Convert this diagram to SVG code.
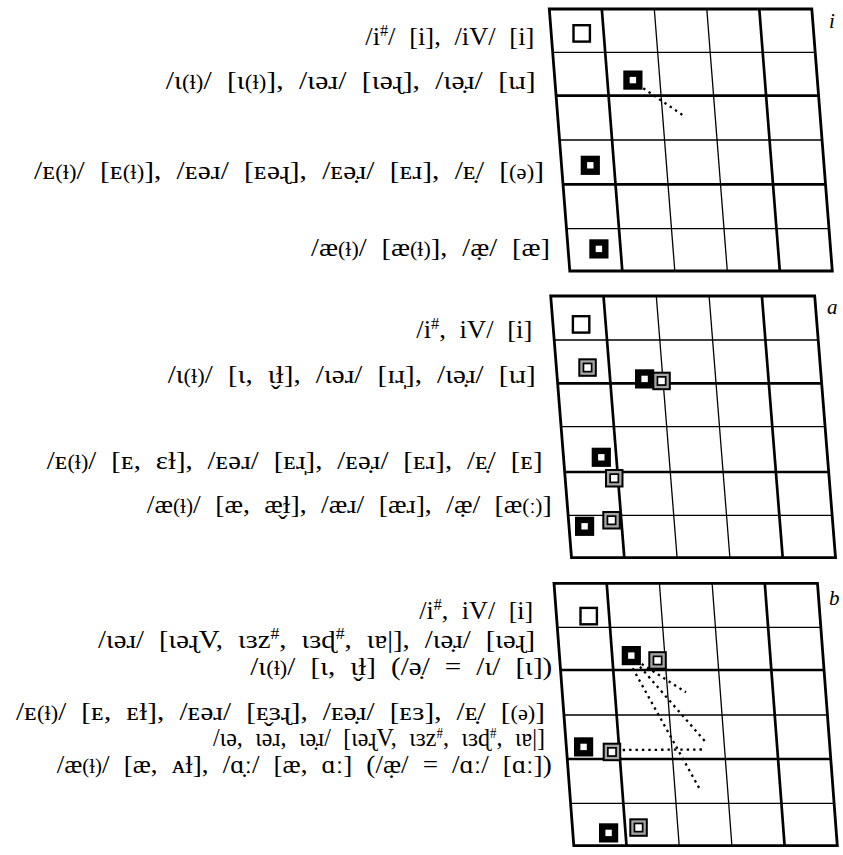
<svg xmlns="http://www.w3.org/2000/svg" xmlns:xlink="http://www.w3.org/1999/xlink" width="843" height="855" viewBox="0 0 843 855">
<style>
.t{font-family:"Liberation Serif","DejaVu Serif",serif;font-size:26px;fill:#000;text-anchor:end;word-spacing:7px}
.sm{font-size:20px}
.sup{font-size:16px}
.sup2{font-size:14px}
.lab{font-family:"Liberation Serif","DejaVu Serif",serif;font-size:21px;font-style:italic;fill:#000}
.bd{fill:none;stroke:#000;stroke-width:2.8;stroke-linejoin:miter}
.tk{stroke:#000;stroke-width:2.7;fill:none}
.tn{stroke:#000;stroke-width:1.3;fill:none}
.dot{stroke:#000;stroke-width:2.3;stroke-dasharray:2.4 4;fill:none}
</style>
<defs>
<g id="hol"><rect x="1.2" y="1.2" width="16.4" height="16.4" fill="#fff" stroke="#000" stroke-width="2.4"/></g>
<g id="blk"><rect width="19.2" height="19.2" fill="#000"/><rect x="6.4" y="6.4" width="6.4" height="6.4" fill="#fff"/></g>
<g id="gry"><rect width="18.5" height="18.5" fill="#000"/><rect x="2" y="2" width="14.5" height="14.5" fill="#a6a6a6"/><rect x="4.3" y="4.3" width="9.9" height="9.9" fill="#000"/><rect x="6" y="6" width="6.5" height="6.5" fill="#fff"/></g>
</defs>
<rect width="843" height="855" fill="#fff"/>

<!-- Panel i -->
<g id="grid-i">
<polygon class="bd" points="549.3,9 811.8,9 832.3,271 569.8,271"/>
<line class="tk" x1="601.8" y1="9" x2="622.3" y2="271"/>
<line class="tn" x1="654.3" y1="9" x2="674.8" y2="271"/>
<line class="tn" x1="706.8" y1="9" x2="727.3" y2="271"/>
<line class="tk" x1="759.3" y1="9" x2="779.8" y2="271"/>
<line class="tn" x1="552.7" y1="52.3" x2="815.2" y2="52.3"/>
<line class="tk" x1="556.1" y1="95.7" x2="818.6" y2="95.7"/>
<line class="tn" x1="559.6" y1="140" x2="822.1" y2="140"/>
<line class="tk" x1="563" y1="184.3" x2="825.5" y2="184.3"/>
<line class="tn" x1="566.5" y1="228.7" x2="829" y2="228.7"/>
</g>
<g id="connectors-i">
<line class="dot" x1="643.3" y1="88.3" x2="685" y2="116.7"/>
</g>
<g id="i-n1"><use xlink:href="#hol" x="572.3" y="24"/></g>
<g id="i-n2"><use xlink:href="#blk" x="623.3" y="70.5"/></g>
<g id="i-n3"><use xlink:href="#blk" x="580.7" y="155.7"/></g>
<g id="i-n4"><use xlink:href="#blk" x="589.3" y="239.3"/></g>
<g id="labels-i">
<text class="t" x="534.3" y="45" textLength="169" lengthAdjust="spacingAndGlyphs">/i<tspan class="sup" dy="-9">#</tspan><tspan dy="9">/ [i], /iV/ [i]</tspan></text>
<text class="t" x="535.7" y="89" textLength="370" lengthAdjust="spacingAndGlyphs">/ɩ<tspan class="sm">(ɫ)</tspan>/ [ɩ<tspan class="sm">(ɫ)</tspan>], /ɩəɹ/ [ɩəɻ], /ɩə̣ɹ/ [ɩɹ]</text>
<text class="t" x="544" y="179" textLength="510" lengthAdjust="spacingAndGlyphs">/ᴇ<tspan class="sm">(ɫ)</tspan>/ [ᴇ<tspan class="sm">(ɫ)</tspan>], /ᴇəɹ/ [ᴇəɻ], /ᴇə̣ɹ/ [ᴇɹ], /ᴇ̣/ [<tspan class="sm">(ə)</tspan>]</text>
<text class="t" x="550" y="255.5" textLength="239" lengthAdjust="spacingAndGlyphs">/æ<tspan class="sm">(ɫ)</tspan>/ [æ<tspan class="sm">(ɫ)</tspan>], /æ̣/ [æ]</text>
<text class="lab" x="829" y="28">i</text>
</g>

<!-- Panel a -->
<g id="grid-a">
<polygon class="bd" points="550.7,296 814.7,296 835.5,557.7 571.5,557.7"/>
<line class="tk" x1="603.5" y1="296" x2="624.3" y2="557.7"/>
<line class="tn" x1="656.3" y1="296" x2="677.1" y2="557.7"/>
<line class="tn" x1="709.1" y1="296" x2="729.9" y2="557.7"/>
<line class="tk" x1="761.9" y1="296" x2="782.7" y2="557.7"/>
<line class="tn" x1="554.2" y1="340" x2="818.2" y2="340"/>
<line class="tk" x1="557.6" y1="383.3" x2="821.6" y2="383.3"/>
<line class="tn" x1="561.1" y1="426.7" x2="825.1" y2="426.7"/>
<line class="tk" x1="564.7" y1="472" x2="828.7" y2="472"/>
<line class="tn" x1="568.1" y1="515.3" x2="832.1" y2="515.3"/>
</g>
<g id="a-n1"><use xlink:href="#hol" x="571.7" y="315"/></g>
<g id="a-n2"><use xlink:href="#gry" x="578.3" y="358.3"/></g>
<g id="a-n3"><use xlink:href="#blk" x="635" y="369.3"/></g>
<g id="a-n4"><use xlink:href="#gry" x="652.3" y="371.7"/></g>
<g id="a-n5"><use xlink:href="#blk" x="591.7" y="447.7"/></g>
<g id="a-n6"><use xlink:href="#gry" x="605" y="469"/></g>
<g id="a-n7"><use xlink:href="#gry" x="602.3" y="511"/></g>
<g id="a-n8"><use xlink:href="#blk" x="575" y="516.7"/></g>
<g id="labels-a">
<text class="t" x="532.3" y="337.5" textLength="116" lengthAdjust="spacingAndGlyphs">/i<tspan class="sup" dy="-9">#</tspan><tspan dy="9">, iV/ [i]</tspan></text>
<text class="t" x="535.7" y="382.5" textLength="368" lengthAdjust="spacingAndGlyphs">/ɩ<tspan class="sm">(ɫ)</tspan>/ [ɩ, ɩ̬ɫ], /ɩəɹ/ [ɪɹ̩], /ɩə̣ɹ/ [ɩɹ]</text>
<text class="t" x="542.7" y="469" textLength="496" lengthAdjust="spacingAndGlyphs">/ᴇ<tspan class="sm">(ɫ)</tspan>/ [ᴇ, ɛɫ], /ᴇəɹ/ [ᴇɹ̩], /ᴇə̣ɹ/ [ᴇɹ], /ᴇ̣/ [ᴇ]</text>
<text class="t" x="551.7" y="512.5" textLength="405" lengthAdjust="spacingAndGlyphs">/æ<tspan class="sm">(ɫ)</tspan>/ [æ, æ̬ɫ], /æɹ/ [æɹ], /æ̣/ [æ<tspan class="sm">(ː)</tspan>]</text>
<text class="lab" x="827" y="314">a</text>
</g>

<!-- Panel b -->
<g id="grid-b">
<polygon class="bd" points="554,583.3 817.5,583.3 837.3,845.7 573.8,845.7"/>
<line class="tk" x1="606.7" y1="583.3" x2="626.5" y2="845.7"/>
<line class="tn" x1="659.4" y1="583.3" x2="679.2" y2="845.7"/>
<line class="tn" x1="712.1" y1="583.3" x2="731.9" y2="845.7"/>
<line class="tk" x1="764.8" y1="583.3" x2="784.6" y2="845.7"/>
<line class="tn" x1="557.3" y1="627.3" x2="820.8" y2="627.3"/>
<line class="tk" x1="560.5" y1="670" x2="824" y2="670"/>
<line class="tn" x1="563.9" y1="715" x2="827.4" y2="715"/>
<line class="tk" x1="567.3" y1="759" x2="830.8" y2="759"/>
<line class="tn" x1="570.6" y1="803.3" x2="834.1" y2="803.3"/>
</g>
<g id="connectors-b">
<line class="dot" x1="641.7" y1="664" x2="686" y2="692.3"/>
<line class="dot" x1="640" y1="666.7" x2="706.7" y2="743.3"/>
<line class="dot" x1="632.7" y1="668.3" x2="699.3" y2="788.3"/>
<line class="dot" x1="622.7" y1="750" x2="703.3" y2="749.5"/>
</g>
<g id="b-n1"><use xlink:href="#hol" x="579.3" y="606.7"/></g>
<g id="b-n2"><use xlink:href="#blk" x="621.7" y="646"/></g>
<g id="b-n3"><use xlink:href="#gry" x="648.3" y="651.2"/></g>
<g id="b-n4"><use xlink:href="#blk" x="574" y="737.3"/></g>
<g id="b-n5"><use xlink:href="#gry" x="602.7" y="742.7"/></g>
<g id="b-n6"><use xlink:href="#blk" x="599" y="823.3"/></g>
<g id="b-n7"><use xlink:href="#gry" x="629.3" y="818.3"/></g>
<g id="labels-b">
<text class="t" x="533.3" y="618.5" textLength="114" lengthAdjust="spacingAndGlyphs">/i<tspan class="sup" dy="-9">#</tspan><tspan dy="9">, iV/ [i]</tspan></text>
<text class="t" x="535" y="648" textLength="437" lengthAdjust="spacingAndGlyphs">/ɩəɹ/ [ɩəɻV, ɩɜz<tspan class="sup" dy="-9">#</tspan><tspan dy="9">, ɩɜɖ</tspan><tspan class="sup" dy="-9">#</tspan><tspan dy="9">, ɩɐ|], /ɩə̣ɹ/ [ɩəɻ]</tspan></text>
<text class="t" x="552.3" y="674.5" textLength="302" lengthAdjust="spacingAndGlyphs">/ɩ<tspan class="sm">(ɫ)</tspan>/ [ɩ, ɩ̬ɫ] (/ə̣/ = /ɩ/ [ɩ])</text>
<text class="t" x="545" y="719.5" textLength="529" lengthAdjust="spacingAndGlyphs">/ᴇ<tspan class="sm">(ɫ)</tspan>/ [ᴇ, ᴇɫ], /ᴇəɹ/ [ᴇ̬ɜɻ], /ᴇə̣ɹ/ [ᴇɜ], /ᴇ̣/ [<tspan class="sm">(ə)</tspan>]</text>
<text class="t" x="545" y="746" textLength="332" lengthAdjust="spacingAndGlyphs">/ɩə, ɩəɹ, ɩə̣ɹ/ [ɩəɻV, ɩɜz<tspan class="sup2" dy="-8">#</tspan><tspan dy="8">, ɩɜɖ</tspan><tspan class="sup2" dy="-8">#</tspan><tspan dy="8">, ɩɐ|]</tspan></text>
<text class="t" x="551.7" y="773" textLength="495" lengthAdjust="spacingAndGlyphs">/æ<tspan class="sm">(ɫ)</tspan>/ [æ, ᴀɫ], /ɑ̣ː/ [æ, ɑː] (/æ̣/ = /ɑː/ [ɑː])</text>
<text class="lab" x="829" y="605">b</text>
</g>
</svg>
